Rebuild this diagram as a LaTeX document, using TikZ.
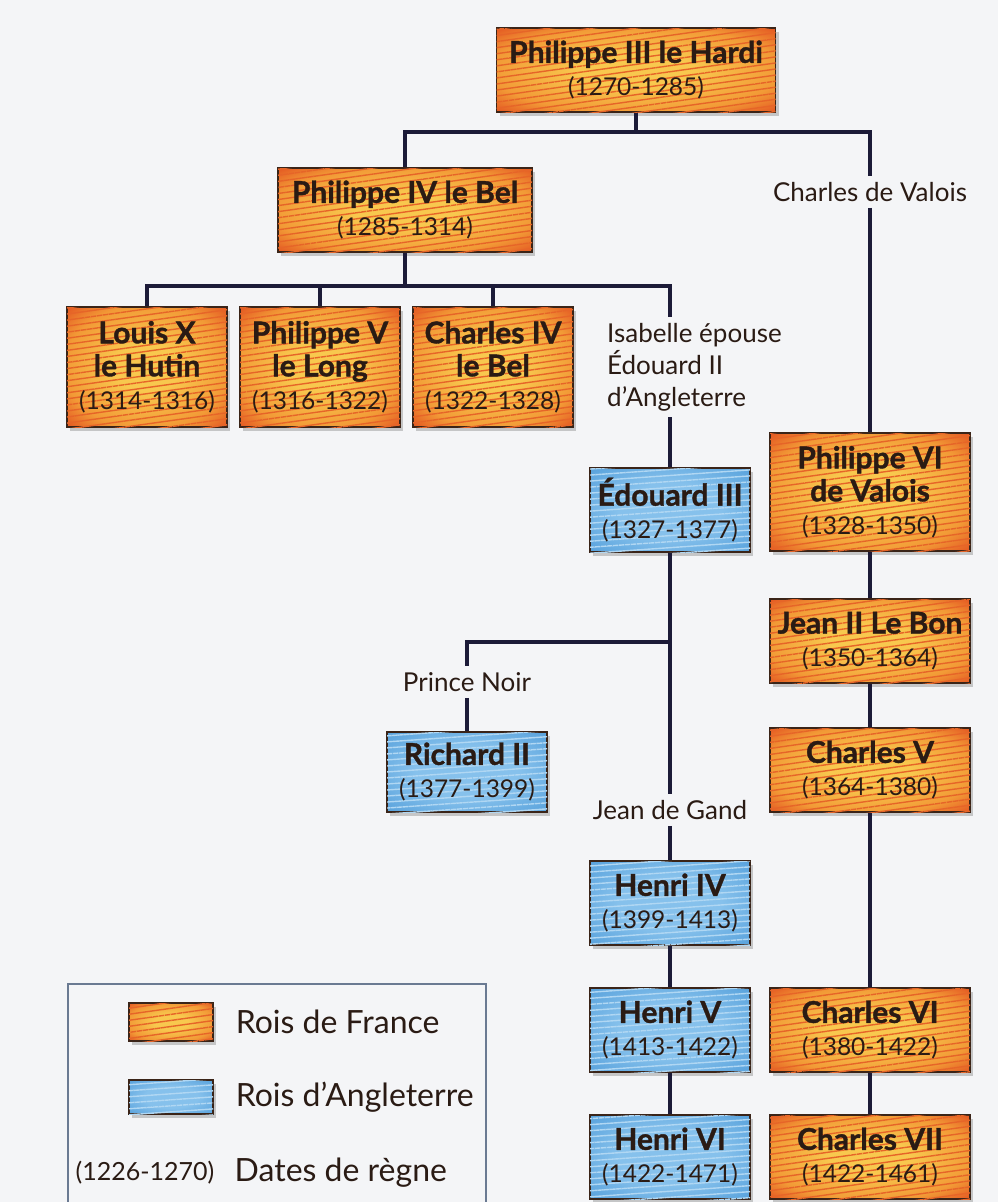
\documentclass[tikz,border=0pt]{standalone}
\usepackage{fontspec}
\setmainfont{Lato}[BoldFeatures={FakeBold=1.2}]
\usepackage{tikz}
\usetikzlibrary{positioning,shadows,patterns.meta}
\definecolor{bgc}{HTML}{F4F5F7}
\definecolor{linkc}{HTML}{1C1B38}
\definecolor{ink}{HTML}{2A1B14}
\definecolor{frin}{HTML}{F8C84E}
\definecolor{frmid}{HTML}{F29A36}
\definecolor{frout}{HTML}{E0441C}
\definecolor{enin}{HTML}{86C1EC}
\definecolor{enout}{HTML}{4D9AD8}
\definecolor{boxline}{HTML}{3A2418}
\definecolor{keyline}{HTML}{6A7A92}
\pgfdeclareradialshading{frgrad}{\pgfpoint{0bp}{0bp}}{color(0bp)=(frin); color(10bp)=(frin); color(26bp)=(frmid); color(38bp)=(frout); color(72bp)=(frout)}
\pgfdeclareradialshading{engrad}{\pgfpoint{0bp}{0bp}}{color(0bp)=(enin); color(16bp)=(enin); color(40bp)=(enout); color(72bp)=(enout)}
\newcommand{\roinom}[1]{{\fontsize{30}{33}\selectfont\bfseries #1}}
\tikzstyle{roi} = [rectangle, draw=boxline, line width=1.2pt, align=center, text=ink, font=\fontsize{24.5}{33}\selectfont, minimum width=160pt, minimum height=84pt, inner sep=2pt, drop shadow={shadow xshift=3pt, shadow yshift=-4pt, fill=gray, opacity=0.4}]
\tikzstyle{roifr} = [roi, shade, shading=frgrad, postaction={pattern={Lines[angle=8, distance=6pt, line width=1.4pt]}, pattern color=frout!75!frin}]
\tikzstyle{roien} = [roi, shade, shading=engrad, postaction={pattern={Lines[angle=4, distance=6pt, line width=1.4pt]}, pattern color=white!35!enin}]
\tikzstyle{lbl} = [text=ink, font=\fontsize{26}{32}\selectfont, inner sep=6pt]
\tikzstyle{keytxt} = [text=ink, font=\fontsize{32}{36}\selectfont, inner sep=0pt]
\tikzstyle{link} = [line width=4pt, draw=linkc]

\begin{document}
\begin{tikzpicture}[x=1pt, y=-1pt]
    \useasboundingbox (0,0) rectangle (998,1202);
    \fill[bgc] (0,0) rectangle (998,1202);

    % rois de France
    \node (hardi) [roifr, minimum width=279pt] at (636,70) {\roinom{Philippe III le Hardi}\\(1270-1285)};
    \node (bel) [roifr, minimum width=254pt, below of=hardi, node distance=140pt, xshift=-231pt] {\roinom{Philippe IV le Bel}\\(1285-1314)};
    \node (philV) [roifr, minimum height=120pt, below of=bel, node distance=157pt, xshift=-85pt] {\roinom{Philippe V}\\\roinom{le Long}\\(1316-1322)};
    \node (louis) [roifr, minimum height=120pt, left of=philV, node distance=173pt] {\roinom{Louis X}\\\roinom{le Hutin}\\(1314-1316)};
    \node (charlesIV) [roifr, minimum height=120pt, right of=philV, node distance=173pt] {\roinom{Charles IV}\\\roinom{le Bel}\\(1322-1328)};
    \node (isabelle) [lbl, align=left, right of=charlesIV, node distance=108pt, anchor=west] {Isabelle épouse\\Édouard II\\d’Angleterre};
    \node (valois) [lbl, below of=hardi, node distance=122pt, xshift=234pt] {Charles de Valois};
    \node (philVI) [roifr, minimum width=200pt, minimum height=118pt, below of=valois, node distance=300pt] {\roinom{Philippe VI}\\\roinom{de Valois}\\(1328-1350)};
    \node (jeanII) [roifr, minimum width=200pt, below of=philVI, node distance=149pt] {\roinom{Jean II Le Bon}\\(1350-1364)};
    \node (charlesV) [roifr, minimum width=200pt, below of=jeanII, node distance=129pt] {\roinom{Charles V}\\(1364-1380)};
    \node (charlesVI) [roifr, minimum width=200pt, below of=charlesV, node distance=260pt] {\roinom{Charles VI}\\(1380-1422)};
    \node (charlesVII) [roifr, minimum width=200pt, below of=charlesVI, node distance=127pt] {\roinom{Charles VII}\\(1422-1461)};

    % rois d'Angleterre
    \node (henriV) [roien, left of=charlesVI, node distance=200pt] {\roinom{Henri V}\\(1413-1422)};
    \node (henriVI) [roien, left of=charlesVII, node distance=200pt] {\roinom{Henri VI}\\(1422-1471)};
    \node (henriIV) [roien, above of=henriV, node distance=127pt] {\roinom{Henri IV}\\(1399-1413)};
    \node (gand) [lbl, above of=henriIV, node distance=93pt] {Jean de Gand};
    \node (edIII) [roien, above of=gand, node distance=300pt] {\roinom{Édouard III}\\(1327-1377)};
    \node (richard) [roien, minimum height=80pt, below of=edIII, node distance=262pt, xshift=-203pt] {\roinom{Richard II}\\(1377-1399)};
    \node (noir) [lbl, above of=richard, node distance=90pt] {Prince Noir};

    % jonctions
    \coordinate [below of=hardi, node distance=62pt] (j1);
    \coordinate [below of=bel, node distance=76pt] (j2);
    \coordinate [below of=edIII, node distance=132pt] (j3);

    \draw[link] (hardi) -- (j1);
    \draw[link] (bel) |- (j1) -| (valois);
    \draw[link] (valois) -- (philVI);
    \draw[link] (philVI) -- (jeanII) -- (charlesV) -- (charlesVI) -- (charlesVII);
    \draw[link] (bel) -- (j2);
    \draw[link] (louis) |- (j2) -| (isabelle.north -| edIII);
    \draw[link] (philV) -- (philV |- j2);
    \draw[link] (charlesIV) -- (charlesIV |- j2);
    \draw[link] (isabelle.south -| edIII) -- (edIII);
    \draw[link] (edIII) -- (gand);
    \draw[link] (j3) -| (noir);
    \draw[link] (noir) -- (richard);
    \draw[link] (gand) -- (henriIV) -- (henriV) -- (henriVI);

    % legende
    \node (key) [draw=keyline, line width=1.5pt, minimum width=418pt, minimum height=240pt] at (277,1104) {};
    \node (keyfr) [roifr, minimum width=84pt, minimum height=38pt, drop shadow={opacity=0}] at (171,1022) {};
    \node (keyfrtxt) [keytxt, right=22pt of keyfr] {Rois de France};
    \node (keyen) [roien, minimum width=84pt, minimum height=34pt, drop shadow={opacity=0}] at (171,1097) {};
    \node (keyentxt) [keytxt, right=22pt of keyen] {Rois d’Angleterre};
    \node (keydates) [keytxt, font=\fontsize{25}{30}\selectfont] at (145,1173) {(1226-1270)};
    \node (keydatestxt) [keytxt, right=20pt of keydates] {Dates de règne};
\end{tikzpicture}
\end{document}
